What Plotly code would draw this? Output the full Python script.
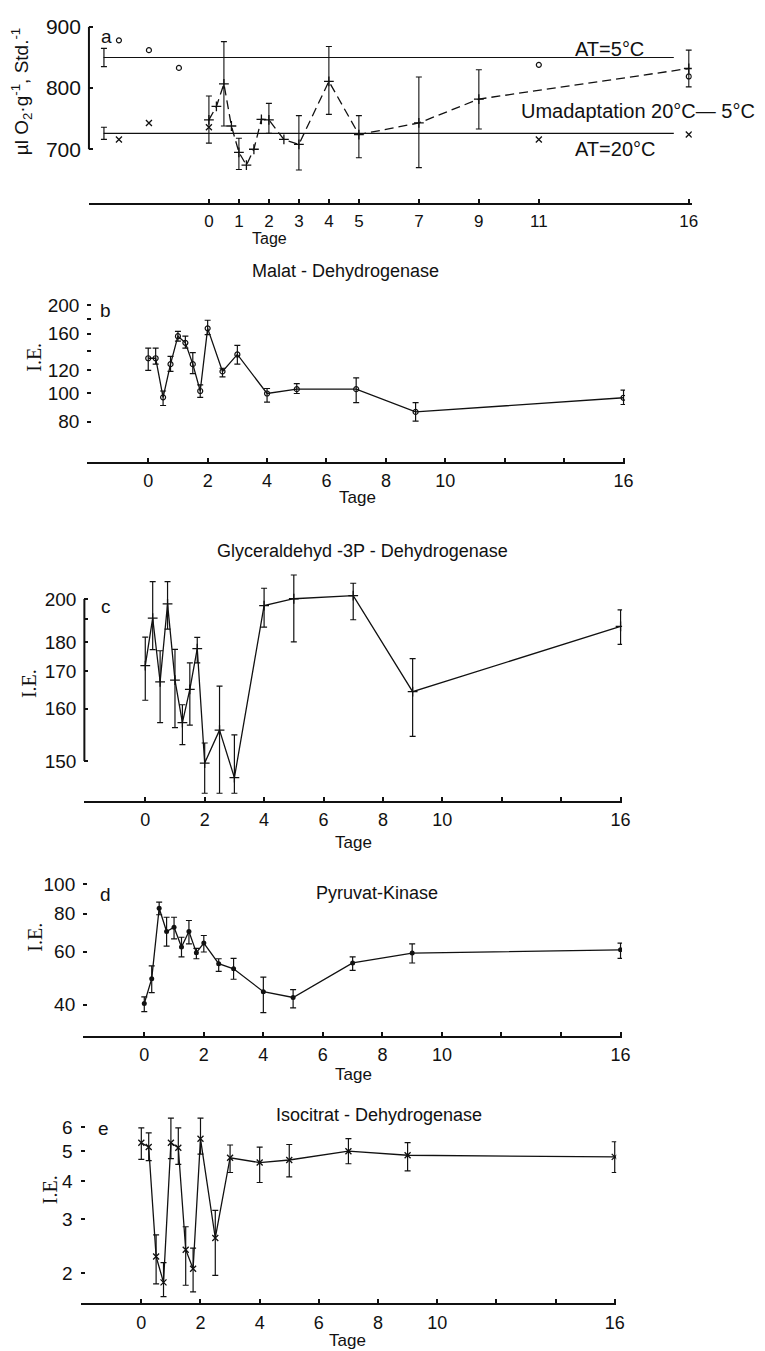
import numpy as np
import plotly.graph_objects as go

W, H = 765, 1351

# ---------------- data ----------------
days = [0, 0.25, 0.5, 0.75, 1, 1.25, 1.5, 1.75, 2, 2.5, 3, 4, 5, 7, 9, 16]

# panel a: O2 consumption
a_vals = [748, 770, 807, 738, 695, 674, 700, 749, 748, 716, 708, 811, 724, 743, 782, 832]
a_err_plus = [39, 0, 69, 0, 23, 0, 0, 0, 27, 0, 47, 57, 31, 75, 48, 30]
a_err_minus = [38, 0, 69, 0, 28, 0, 0, 0, 22, 0, 42, 54, 38, 73, 49, 30]
at5_days = [-3.5, 15.5]
at5_vals = [850, 850]
at5_err = [15]
at20_days = [-3.5, 15.5]
at20_vals = [726, 726]
at20_err = [10]
o5_days = [-3, -2, -1, 11, 16]
o5_vals = [878, 862, 833, 838, 819]
x20_days = [-3, -2, 0, 11, 16]
x20_vals = [716, 743, 736, 716, 724]

# panel b: Malat-Dehydrogenase
b_vals = [132, 132, 97, 126, 157, 149, 126, 102, 167, 119, 136, 100, 103.5, 103.5, 86.5, 96.7]
b_err_plus = [11, 11, 5, 8, 6, 8, 12, 5, 11, 3, 10, 4, 4.5, 9.5, 6.5, 6]
b_err_minus = [12, 6, 6, 7, 6, 6, 9, 5, 8, 5, 10, 6.5, 3.5, 10.5, 6, 5]

# panel c: Glyceraldehyd-3P-Dehydrogenase
c_vals = [171.8, 190.3, 166.9, 197.4, 167.4, 156.9, 164.8, 177.7, 149.7, 155.4, 147.6, 196.5, 200.1, 201.8, 164.2, 186.6]
c_err_plus = [10.3, 19.7, 10, 12.6, 10, 4, 7.9, 4.3, 3.3, 10.3, 6.9, 9.5, 14.1, 7.2, 9.9, 7.7]
c_err_minus = [9.8, 13, 10, 12, 11.5, 4.2, 8.4, 5, 4.1, 9.8, 2, 10.2, 19.9, 12.2, 10, 7.3]

# panel d: Pyruvat-Kinase
d_vals = [40.4, 48.8, 83.4, 69.9, 72.2, 62.1, 69.9, 59.5, 64, 54.7, 52.6, 44.2, 42.3, 55, 59.3, 60.8]
d_err_plus = [2.1, 5, 4, 8, 5.7, 4.8, 6.1, 2, 3.8, 2.1, 4.4, 5.2, 2.6, 2.6, 4.3, 3.2]
d_err_minus = [2.4, 4.9, 4, 7.4, 6.1, 4.5, 6.3, 2.7, 4.2, 3.1, 4, 6.5, 3.2, 3, 4.3, 3.8]

# panel e: Isocitrat-Dehydrogenase
e_vals = [5.34, 5.17, 2.27, 1.87, 5.34, 5.14, 2.39, 2.07, 5.50, 2.61, 4.77, 4.60, 4.69, 5.01, 4.86, 4.80]
e_err_plus = [0.63, 0.58, 0.4, 0.3, 1.08, 0.83, 0.45, 0.35, 0.92, 0.6, 0.48, 0.57, 0.58, 0.5, 0.48, 0.58]
e_err_minus = [0.63, 0.5, 0.42, 0.19, 0.6, 0.6, 0.56, 0.33, 0.6, 0.64, 0.5, 0.64, 0.56, 0.45, 0.54, 0.53]

a_ticks = [0, 1, 2, 3, 4, 5, 7, 9, 11, 16]
be_ticks = [0, 2, 4, 6, 8, 10, 16]
be_minor = [12, 14]
a_yticks = [700, 800, 900]
b_yticks = [80, 100, 120, 160, 200]
b_yminor = [140, 180]
c_yticks = [150, 160, 170, 180, 200]
c_yminor = [190]
c_offset = 130  # axis of panel c is log(value - 130)
d_yticks = [40, 60, 80, 100]
e_yticks = [2, 3, 4, 5, 6]

# ---------------- layout helpers ----------------
FONT = "Liberation Sans, Arial, sans-serif"
SERIF = "Liberation Serif, Times New Roman, serif"
BLACK = "#111"

def xdom(px0, ppd, dmin, dmax):
    return [(px0 + dmin * ppd) / W, (px0 + dmax * ppd) / W], [dmin, dmax]

def ydom(pbot, ptop, ref_px, ref_val, ppu):
    lo = ref_val - (pbot - ref_px) / ppu
    hi = ref_val + (ref_px - ptop) / ppu
    return [1 - pbot / H, 1 - ptop / H], [lo, hi]

fig = go.Figure()

panels = {
    1: dict(x=xdom(211.4, 30.35, -4, 16.1), y=ydom(197, 15, 143, 700, 0.615), ytype="linear"),
    2: dict(x=xdom(150, 30.06, -2.05, 16.05), y=ydom(457, 290, 417, np.log10(80), 294), ytype="log"),
    3: dict(x=xdom(147, 30.06, -2.05, 16.05), y=ydom(798, 565, 758, np.log10(20), 299.6), ytype="linear"),
    4: dict(x=xdom(146, 30.12, -2.05, 16.05), y=ydom(1034, 875, 1003, np.log10(40), 304), ytype="log"),
    5: dict(x=xdom(143, 29.94, -2.05, 16.05), y=ydom(1303, 1085, 1273, np.log10(2), 308), ytype="log"),
}

ctf = lambda v: list(np.log10(np.array(v, dtype=float) - c_offset))
ytick_cfg = {
    1: (a_yticks, [str(v) for v in a_yticks], [], 21),
    2: (b_yticks, [str(v) for v in b_yticks], b_yminor, 19),
    3: (ctf(c_yticks), [str(v) for v in c_yticks], ctf(c_yminor), 19),
    4: (d_yticks, [str(v) for v in d_yticks], [], 19),
    5: (e_yticks, [str(v) for v in e_yticks], [], 19),
}

for i, p in panels.items():
    xs = "" if i == 1 else str(i)
    xdomain, xrange_ = p["x"]
    ydomain, yrange_ = p["y"]
    if i == 1:
        tv, mv, xfs = a_ticks, [], 17
    else:
        tv, mv, xfs = be_ticks, be_minor, 18
    xa = dict(
        domain=xdomain, range=xrange_, anchor="y" + xs, showgrid=False, zeroline=False,
        showline=True, linecolor=BLACK, linewidth=2, ticks="inside", ticklen=4, tickwidth=2,
        tickcolor=BLACK, tickmode="array", tickvals=tv, ticktext=[str(t) for t in tv],
        tickfont=dict(family=FONT, size=xfs, color=BLACK), ticklabelstandoff=2,
    )
    if mv:
        xa["minor"] = dict(tickmode="array", tickvals=mv, ticks="inside", ticklen=4,
                           tickwidth=2, tickcolor=BLACK, showgrid=False)
    fig.layout["xaxis" + xs] = xa
    yv, yt, ym, yfs = ytick_cfg[i]
    ya = dict(
        domain=ydomain, range=yrange_, type=p["ytype"], anchor="x" + xs, showgrid=False,
        zeroline=False, showline=False, ticks="inside", ticklen=4, tickwidth=2, tickcolor=BLACK,
        tickmode="array", tickvals=yv, ticktext=yt,
        tickfont=dict(family=FONT, size=yfs, color=BLACK), ticklabelstandoff=7,
    )
    if ym:
        ya["minor"] = dict(tickmode="array", tickvals=ym, ticks="inside", ticklen=4,
                           tickwidth=2, tickcolor=BLACK, showgrid=False)
    fig.layout["yaxis" + xs] = ya
    # vertical axis line spanning only the tick range
    if p["ytype"] == "log":
        y0, y1 = np.log10(min(yv)), np.log10(max(yv))
    else:
        y0, y1 = min(yv), max(yv)
    fig.add_shape(type="line", xref="paper", yref="y" + xs, x0=xdomain[0], x1=xdomain[0],
                  y0=y0, y1=y1, line=dict(color=BLACK, width=2))

def err(plus, minus, th=1.2):
    return dict(type="data", symmetric=False, array=plus, arrayminus=minus,
                width=3, thickness=th, color=BLACK)

# ---------------- panel a ----------------
for dd, vv, ee in [(at5_days, at5_vals, at5_err), (at20_days, at20_vals, at20_err)]:
    fig.add_trace(go.Scatter(x=dd, y=vv, mode="lines", line=dict(color=BLACK, width=1.2),
                             xaxis="x", yaxis="y", showlegend=False))
    fig.add_trace(go.Scatter(x=dd[:1], y=vv[:1], mode="markers", marker=dict(size=1, color=BLACK),
                             error_y=err(ee, ee), xaxis="x", yaxis="y", showlegend=False))
fig.add_trace(go.Scatter(x=o5_days, y=o5_vals, mode="markers",
                         marker=dict(symbol="circle-open", size=5, color=BLACK, line=dict(width=1.2)),
                         xaxis="x", yaxis="y", showlegend=False))
fig.add_trace(go.Scatter(x=x20_days, y=x20_vals, mode="markers",
                         marker=dict(symbol="x-thin", size=6, color=BLACK, line=dict(width=1.3, color=BLACK)),
                         xaxis="x", yaxis="y", showlegend=False))
fig.add_trace(go.Scatter(x=days, y=a_vals, mode="lines+markers",
                         line=dict(color=BLACK, width=1.3, dash="9px,5px"),
                         marker=dict(symbol="cross-thin", size=7, color=BLACK, line=dict(width=1.3, color=BLACK)),
                         xaxis="x", yaxis="y", showlegend=False))
sel = [k for k in range(len(days)) if a_err_plus[k] > 0]
fig.add_trace(go.Scatter(x=[days[k] for k in sel], y=[a_vals[k] for k in sel], mode="markers",
                         marker=dict(size=1, color=BLACK),
                         error_y=err([a_err_plus[k] for k in sel], [a_err_minus[k] for k in sel], 1.1),
                         xaxis="x", yaxis="y", showlegend=False))

# ---------------- panels b-e ----------------
def add_series(ax, yvals, plus, minus, marker):
    fig.add_trace(go.Scatter(x=days, y=yvals, mode="lines+markers",
                             line=dict(color=BLACK, width=1.3), marker=marker,
                             error_y=err(plus, minus), xaxis="x" + ax, yaxis="y" + ax,
                             showlegend=False))

add_series("2", b_vals, b_err_plus, b_err_minus,
           dict(symbol="circle-open", size=5, color=BLACK, line=dict(width=1.2, color=BLACK)))

c_arr = np.array(c_vals)
c_t = np.log10(c_arr - c_offset)
c_tp = np.log10(c_arr + np.array(c_err_plus) - c_offset) - c_t
c_tm = c_t - np.log10(c_arr - np.array(c_err_minus) - c_offset)
add_series("3", list(c_t), list(c_tp), list(c_tm),
           dict(symbol="cross-thin", size=7, color=BLACK, line=dict(width=1.3, color=BLACK)))

add_series("4", d_vals, d_err_plus, d_err_minus,
           dict(symbol="circle", size=5, color=BLACK))

add_series("5", e_vals, e_err_plus, e_err_minus,
           dict(symbol="x-thin", size=6, color=BLACK, line=dict(width=1.3, color=BLACK)))

# ---------------- annotations ----------------
def note(text, x, y, size=18, family=FONT, angle=0):
    fig.add_annotation(text=text, x=x / W, y=1 - y / H, xref="paper", yref="paper",
                       showarrow=False, font=dict(family=family, size=size, color=BLACK),
                       textangle=angle, xanchor="center", yanchor="middle")

note("AT=5°C", 617, 42, 20)
note("Umadaptation 20°C— 5°C", 646, 105, 20)
note("AT=20°C", 622, 143, 20)
note("a", 108, 30, 19)
note("b", 107, 305, 19)
note("c", 107, 603, 19)
note("d", 107, 892, 19)
note("e", 105, 1127, 19)

note("Malat - Dehydrogenase", 350, 265, 18)
note("Glyceraldehyd -3P - Dehydrogenase", 367, 547, 18)
note("Pyruvat-Kinase", 381, 891, 18)
note("Isocitrat - Dehydrogenase", 384, 1114, 18)

for (tx, ty, fs) in [(273, 233, 16), (362, 493, 17), (358, 840, 17), (358, 1073, 17), (352, 1340, 17)]:
    note("Tage", tx, ty, fs)

note("µl O<sub>2</sub>·g<sup>-1</sup>, Std.<sup>-1</sup>", 22, 85, 19, angle=-90)
note("I.E.", 35, 352, 20, family=SERIF, angle=-90)
note("I.E.", 30, 680, 20, family=SERIF, angle=-90)
note("I.E.", 36, 935, 20, family=SERIF, angle=-90)
note("I.E.", 50, 1189, 20, family=SERIF, angle=-90)

fig.update_layout(width=W, height=H, margin=dict(l=0, r=0, t=0, b=0),
                  paper_bgcolor="white", plot_bgcolor="white", showlegend=False)

fig.write_html(
    "out.html",
    config={"displayModeBar": False, "responsive": False},
    post_script=(
        "document.documentElement.style.margin='0px';"
        "document.body.style.margin='0px';"
        "document.documentElement.style.overflow='hidden';"
        "document.body.style.overflow='hidden';"
    ),
)
